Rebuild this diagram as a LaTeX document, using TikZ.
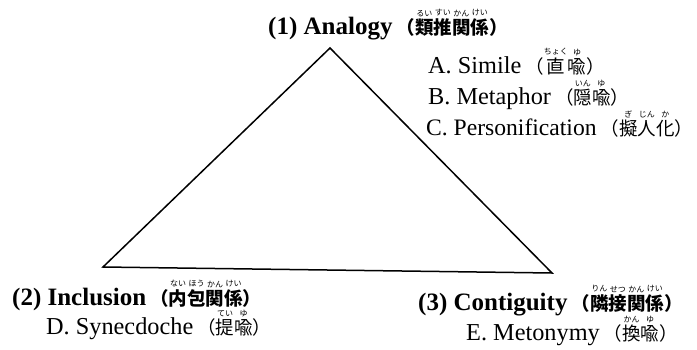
\documentclass[tikz,border=0pt]{standalone}
\usepackage{fontspec}
\setmainfont{Liberation Serif}
\newfontfamily\cjk{Noto Sans CJK JP}
\newcommand\jtext[1]{\kern4pt{\cjk\fontsize{18.5}{20}\selectfont #1}}
\newcommand\rparen{\makebox[0.55em][l]{）}}
\newcommand\rb[2]{\leavevmode\vbox{\offinterlineskip\halign{\hfil##\hfil\cr{\fontsize{8}{8}\selectfont\mdseries #2}\cr\noalign{\kern2pt}#1\cr}}}
\begin{document}
\begin{tikzpicture}[x=1pt,y=-1pt,
  lbl/.style={inner sep=0pt, anchor=base west, font=\fontsize{24.3}{26}\selectfont},
  head/.style={lbl, font=\fontsize{25}{27}\selectfont\bfseries},
  edge/.style={line width=1.5pt, line join=miter}]
\useasboundingbox (0,0) rectangle (697,349);
\coordinate (top) at (330,48);
\coordinate (left) at (103,267);
\coordinate (right) at (552,273);
\draw[edge] (top) -- (left) -- (right) -- cycle;

\node[head] (n1) at (268,34) {(1) Analogy\jtext{（\rb{類}{るい}\rb{推}{すい}\rb{関}{かん}\rb{係}{けい}\rparen}};
\node[lbl] (nA) at (428,73) {A. Simile\jtext{（\rb{直}{ちょく}\rb{喩}{ゆ}\rparen}};
\node[lbl] (nB) at (428,104) {B. Metaphor\jtext{（\rb{隠}{いん}\rb{喩}{ゆ}\rparen}};
\node[lbl, font=\fontsize{23.6}{26}\selectfont] (nC) at (426,135) {C. Personification\jtext{（\rb{擬}{ぎ}\rb{人}{じん}\rb{化}{か}\rparen}};

\node[head] (n2) at (12,305) {(2) Inclusion\jtext{（\rb{内}{ない}\rb{包}{ほう}\rb{関}{かん}\rb{係}{けい}\rparen}};
\node[lbl] (nD) at (46,334) {D. Synecdoche\jtext{（\rb{提}{てい}\rb{喩}{ゆ}\rparen}};

\node[head] (n3) at (418,310) {(3) Contiguity\jtext{（\rb{隣}{りん}\rb{接}{せつ}\rb{関}{かん}\rb{係}{けい}\rparen}};
\node[lbl] (nE) at (466,340) {E. Metonymy\jtext{（\rb{換}{かん}\rb{喩}{ゆ}\rparen}};
\end{tikzpicture}
\end{document}
